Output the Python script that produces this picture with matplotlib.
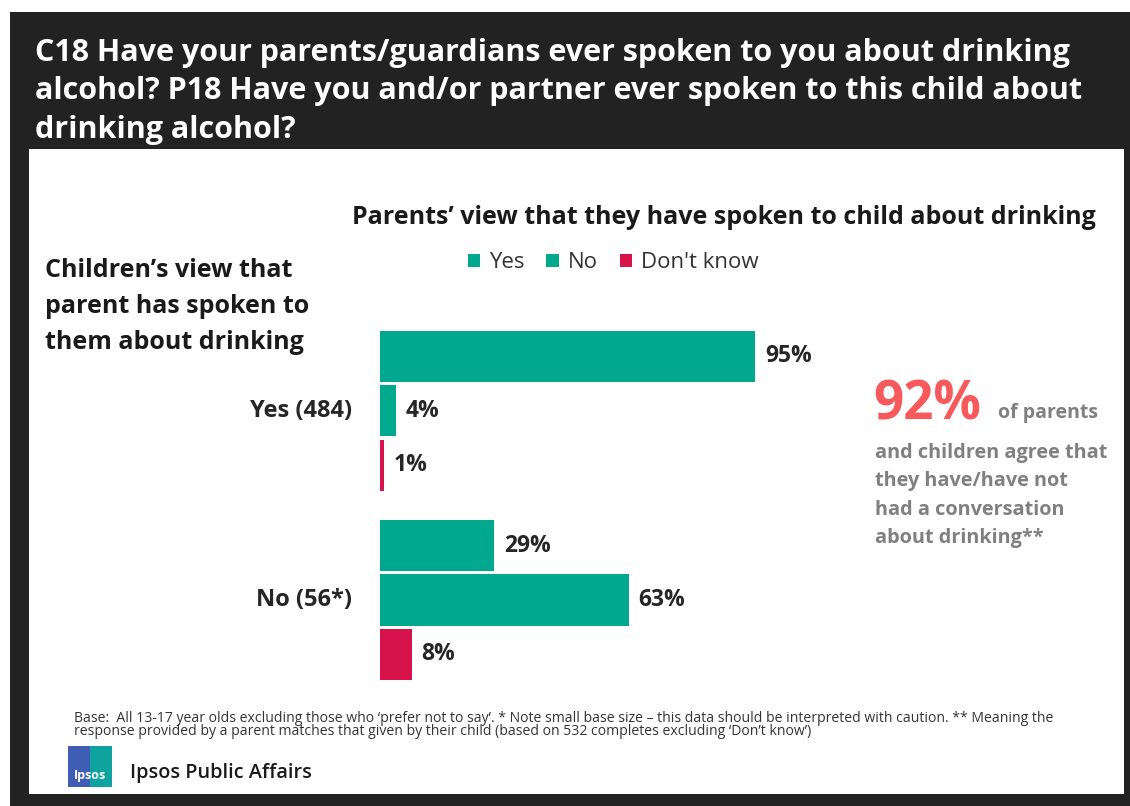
import matplotlib
matplotlib.use('Agg')
import matplotlib.pyplot as plt
from matplotlib.patches import Rectangle

plt.rcParams['font.family'] = ['Open Sans', 'DejaVu Sans']

# data
groups = ['Yes (484)', 'No (56*)']
series = ['Yes', 'No', "Don't know"]
yes_vals = [95, 29]
no_vals = [4, 63]
dk_vals = [1, 8]

teal = '#00A88E'
red = '#D6134A'
coral = '#F85A5C'
grey = '#808080'
dark = '#222222'

W, H = 1130, 806


def fx(x):
    return x / W


def fy(y):
    return 1 - y / H


fig = plt.figure(figsize=(11.3, 8.06), dpi=100)
fig.patch.set_facecolor('white')

# dark frame + white panel
fig.add_artist(Rectangle((fx(10), fy(806)), fx(1120), 794 / H, transform=fig.transFigure,
                         facecolor=dark, edgecolor='none', zorder=0))
fig.add_artist(Rectangle((fx(29), fy(794)), fx(1095), 645 / H, transform=fig.transFigure,
                         facecolor='white', edgecolor='none', zorder=0))

title = ('C18 Have your parents/guardians ever spoken to you about drinking\n'
         'alcohol? P18 Have you and/or partner ever spoken to this child about\n'
         'drinking alcohol?')
fig.text(fx(35), fy(38), title, color='white', fontsize=22, fontweight='bold',
         va='top', ha='left', linespacing=1.36)

# bars
ax = fig.add_axes([fx(380), fy(690), 394.7 / W, 370 / H])
ax.set_xlim(0, 100)
ax.set_ylim(1.476, -0.481)
ax.axis('off')

step = 0.288
hgt = 0.27
cols = [teal, teal, red]
bars = []
for i, (vals, c, name) in enumerate(zip([yes_vals, no_vals, dk_vals], cols, series)):
    pos = [g + (i - 1) * step for g in range(len(groups))]
    b = ax.barh(pos, vals, height=hgt, color=c, label=name)
    bars.append(b)
    for p, v in zip(pos, vals):
        ax.text(v + 2.5, p, f'{v}%', va='center', ha='left', fontsize=16.5,
                fontweight='bold', color='#262626', clip_on=False)

for g, name in enumerate(groups):
    ax.text(-7, g, name, va='center', ha='right', fontsize=17,
            fontweight='bold', color='#262626', clip_on=False)

fig.legend(handles=bars, labels=series, loc='center', bbox_to_anchor=(fx(613), fy(263)),
           ncol=3, frameon=False, fontsize=16, handlelength=0.55, handleheight=0.55,
           handletextpad=0.4, columnspacing=1.0, labelcolor='#333333')

fig.text(fx(352), fy(218), 'Parents\u2019 view that they have spoken to child about drinking',
         fontsize=18, fontweight='bold', color='#1a1a1a', va='center', ha='left')

fig.text(fx(45), fy(258), 'Children\u2019s view that\nparent has spoken to\nthem about drinking',
         fontsize=18, fontweight='bold', color='#1a1a1a', va='top', ha='left',
         linespacing=1.57)

# callout
fig.text(fx(873), fy(420), '92%', fontsize=38, fontweight='bold', color=coral,
         va='baseline', ha='left')
fig.text(fx(998), fy(418), 'of parents', fontsize=14, fontweight='bold', color=grey,
         va='baseline', ha='left')
fig.text(fx(875), fy(443), 'and children agree that\nthey have/have not\nhad a conversation\nabout drinking**',
         fontsize=14.3, fontweight='bold', color=grey, va='top', ha='left', linespacing=1.56)

# footer
foot = ('Base:  All 13-17 year olds excluding those who \u2018prefer not to say\u2019. * Note small base size \u2013 '
        'this data should be interpreted with caution. ** Meaning the\n'
        'response provided by a parent matches that given by their child (based on 532 completes '
        'excluding \u2018Don\u2019t know\u2019)')
fig.text(fx(74), fy(711), foot, fontsize=10.1, color='#333333', va='top', ha='left',
         linespacing=0.86)

# logo
fig.add_artist(Rectangle((fx(68), fy(787)), 22 / W, 41 / H, transform=fig.transFigure,
                         facecolor='#3F5DB5', edgecolor='none'))
fig.add_artist(Rectangle((fx(90), fy(787)), 22 / W, 41 / H, transform=fig.transFigure,
                         facecolor='#0FA3A0', edgecolor='none'))
fig.text(fx(90), fy(775), 'Ipsos', fontsize=9, fontweight='bold', color='white',
         ha='center', va='center')
fig.text(fx(130), fy(773), 'Ipsos Public Affairs', fontsize=14.3, fontweight='semibold',
         color='#1a1a1a', ha='left', va='center')

fig.savefig('out.png', dpi=100, facecolor='white')
